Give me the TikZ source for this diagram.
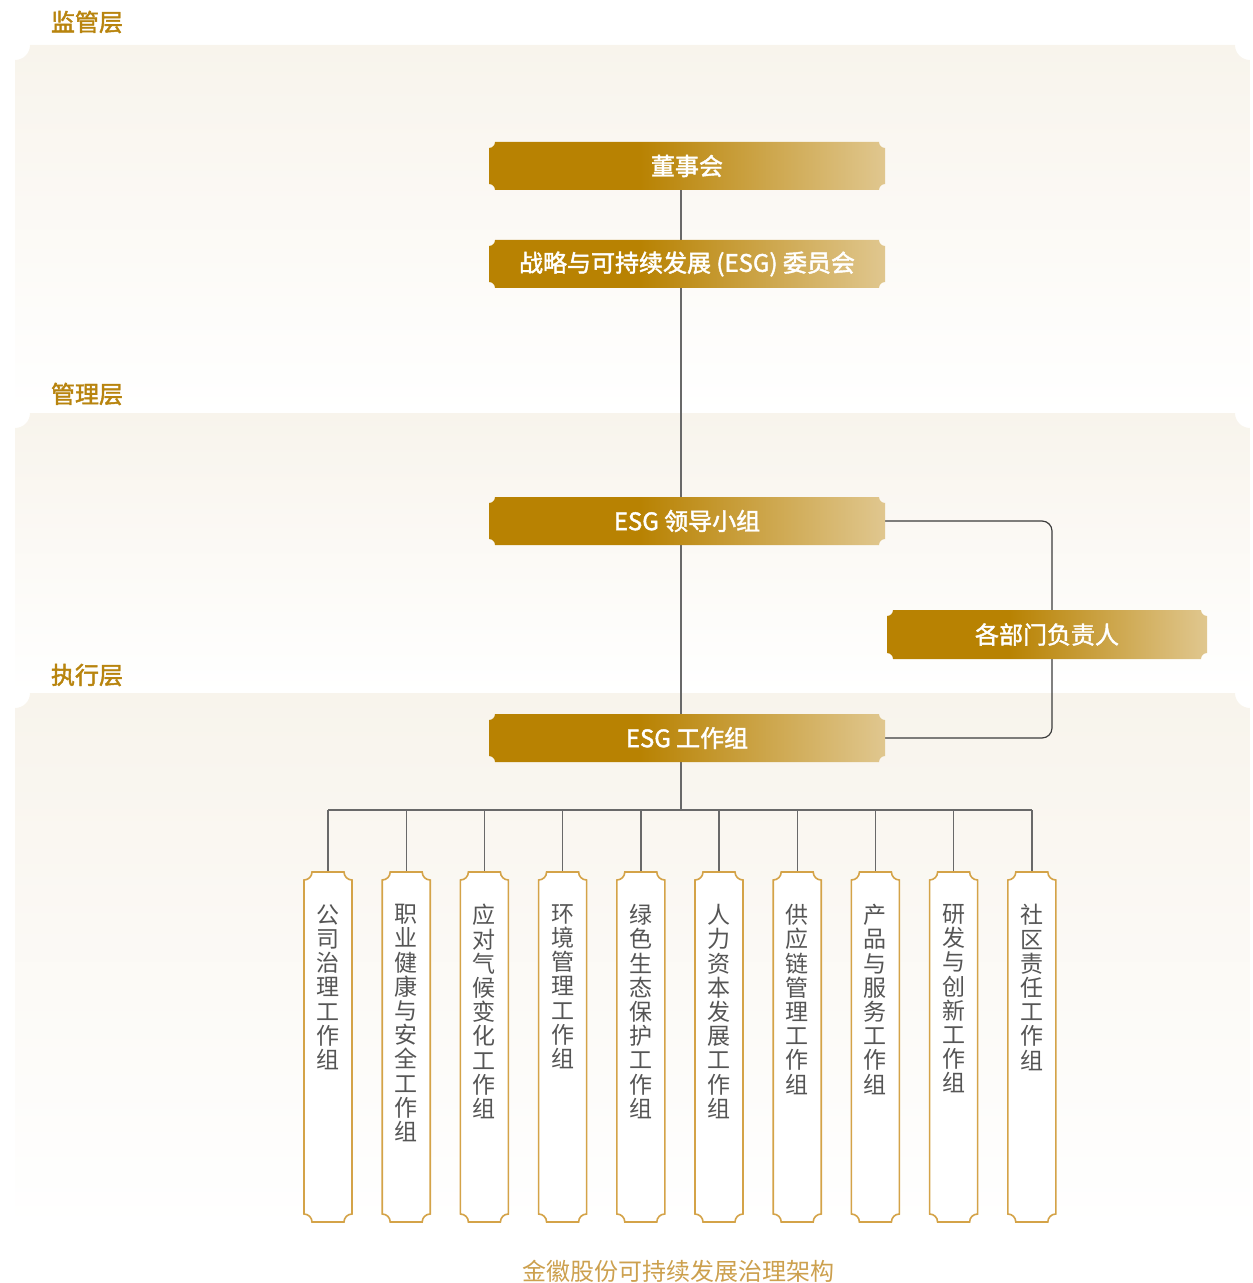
\documentclass[tikz,border=0pt]{standalone}
\usepackage{fontspec}
\setmainfont{Noto Sans CJK SC}
\newfontfamily\mediumcjk[FakeBold=1.8]{Noto Sans CJK SC}
\usetikzlibrary{positioning}

\definecolor{golddark}{RGB}{184,130,2}
\definecolor{goldlight}{RGB}{224,199,143}
\definecolor{tiergold}{RGB}{184,132,14}
\definecolor{captiongold}{RGB}{204,160,78}
\definecolor{bandtop}{RGB}{248,244,236}
\definecolor{wiregray}{RGB}{105,105,105}
\definecolor{bracketgray}{RGB}{60,60,60}
\definecolor{talledge}{RGB}{212,163,72}
\definecolor{talltextgray}{RGB}{85,85,85}

\pgfdeclarehorizontalshading{goldfade}{100bp}{color(0bp)=(golddark); color(25bp)=(golddark); color(44bp)=(golddark); color(75bp)=(goldlight); color(100bp)=(goldlight)}

\pgfdeclarelayer{bands}
\pgfdeclarelayer{wires}
\pgfdeclarelayer{shapes}
\pgfsetlayers{bands,wires,shapes,main}

% box outline with hollow corners
\newcommand{\notched}[3]{\path[#1] ([xshift=#3]#2.north west) -- ([xshift=-#3]#2.north east) arc[start angle=180,end angle=270,radius=#3] -- ([yshift=#3]#2.south east) arc[start angle=90,end angle=180,radius=#3] -- ([xshift=#3]#2.south west) arc[start angle=0,end angle=90,radius=#3] -- ([yshift=-#3]#2.north west) arc[start angle=270,end angle=360,radius=#3] -- cycle;}

\tikzset{
  tier/.style={inner sep=0pt, text=tiergold, font=\fontsize{12}{14}\selectfont\mediumcjk},
  goldbox/.style={minimum width=198pt, minimum height=24pt, inner sep=0pt, outer sep=0pt, text=white, font=\fontsize{12}{14}\selectfont\mediumcjk},
  tallbox/.style={minimum width=24pt, minimum height=175pt, inner sep=0pt, outer sep=0pt},
  talltext/.style={inner sep=0pt, align=center, text=talltextgray, font=\fontsize{11.5}{12.1}\selectfont},
  wire/.style={draw=wiregray, line width=0.7pt},
  bracket/.style={draw=bracketgray, line width=0.6pt, rounded corners=5pt},
  caption/.style={inner sep=0pt, text=captiongold, font=\fontsize{12}{14}\selectfont}
}

\begin{document}
\begin{tikzpicture}[x=0.5pt,y=0.5pt]
\useasboundingbox (0,0) rectangle (1252,-1283);

% tier bands
\begin{pgfonlayer}{bands}
\shade[top color=bandtop,bottom color=white] (15,-60) arc[start angle=270,end angle=360,radius=15] -- (1235,-45) arc[start angle=180,end angle=270,radius=15] -- (1250,-413) -- (15,-413) -- cycle;
\shade[top color=bandtop,bottom color=white] (15,-428) arc[start angle=270,end angle=360,radius=15] -- (1235,-413) arc[start angle=180,end angle=270,radius=15] -- (1250,-693) -- (15,-693) -- cycle;
\shade[top color=bandtop,bottom color=white] (15,-708) arc[start angle=270,end angle=360,radius=15] -- (1235,-693) arc[start angle=180,end angle=270,radius=15] -- (1250,-1230) -- (15,-1230) -- cycle;
\end{pgfonlayer}

\node[tier] (tier1) at (87,-22) {监管层};
\node[tier] (tier2) at (87,-394) {管理层};
\node[tier] (tier3) at (87,-675) {执行层};

% gold boxes
\node[goldbox] (board) at (687,-166) {董事会};
\node[goldbox] (committee) at (687,-264) {战略与可持续发展 (ESG) 委员会};
\node[goldbox] (leadgrp) at (687,-521) {ESG 领导小组};
\node[goldbox, minimum width=160pt, minimum height=24.5pt] (deptheads) at (1047,-634.5) {各部门负责人};
\node[goldbox] (workgrp) at (687,-738) {ESG 工作组};

\begin{pgfonlayer}{shapes}
\notched{shade, shading=goldfade}{board}{3pt}
\notched{shade, shading=goldfade}{committee}{3pt}
\notched{shade, shading=goldfade}{leadgrp}{3pt}
\notched{shade, shading=goldfade}{deptheads}{3pt}
\notched{shade, shading=goldfade}{workgrp}{3pt}
\end{pgfonlayer}

% working groups
\node[tallbox] (wg1) at (328,-1047) {};
\node[tallbox] (wg2) at (406.2,-1047) {};
\node[tallbox] (wg3) at (484.4,-1047) {};
\node[tallbox] (wg4) at (562.6,-1047) {};
\node[tallbox] (wg5) at (640.8,-1047) {};
\node[tallbox] (wg6) at (719,-1047) {};
\node[tallbox] (wg7) at (797.2,-1047) {};
\node[tallbox] (wg8) at (875.4,-1047) {};
\node[tallbox] (wg9) at (953.6,-1047) {};
\node[tallbox] (wg10) at (1031.8,-1047) {};

\begin{pgfonlayer}{shapes}
\notched{draw=talledge, line width=0.8pt, fill=white}{wg1}{4pt}
\notched{draw=talledge, line width=0.8pt, fill=white}{wg2}{4pt}
\notched{draw=talledge, line width=0.8pt, fill=white}{wg3}{4pt}
\notched{draw=talledge, line width=0.8pt, fill=white}{wg4}{4pt}
\notched{draw=talledge, line width=0.8pt, fill=white}{wg5}{4pt}
\notched{draw=talledge, line width=0.8pt, fill=white}{wg6}{4pt}
\notched{draw=talledge, line width=0.8pt, fill=white}{wg7}{4pt}
\notched{draw=talledge, line width=0.8pt, fill=white}{wg8}{4pt}
\notched{draw=talledge, line width=0.8pt, fill=white}{wg9}{4pt}
\notched{draw=talledge, line width=0.8pt, fill=white}{wg10}{4pt}
\end{pgfonlayer}

\node[talltext, below=16pt of wg1.north] (wg1txt) {公\\司\\治\\理\\工\\作\\组};
\node[talltext, below=16pt of wg2.north] (wg2txt) {职\\业\\健\\康\\与\\安\\全\\工\\作\\组};
\node[talltext, below=16pt of wg3.north] (wg3txt) {应\\对\\气\\候\\变\\化\\工\\作\\组};
\node[talltext, below=16pt of wg4.north] (wg4txt) {环\\境\\管\\理\\工\\作\\组};
\node[talltext, below=16pt of wg5.north] (wg5txt) {绿\\色\\生\\态\\保\\护\\工\\作\\组};
\node[talltext, below=16pt of wg6.north] (wg6txt) {人\\力\\资\\本\\发\\展\\工\\作\\组};
\node[talltext, below=16pt of wg7.north] (wg7txt) {供\\应\\链\\管\\理\\工\\作\\组};
\node[talltext, below=16pt of wg8.north] (wg8txt) {产\\品\\与\\服\\务\\工\\作\\组};
\node[talltext, below=16pt of wg9.north] (wg9txt) {研\\发\\与\\创\\新\\工\\作\\组};
\node[talltext, below=16pt of wg10.north] (wg10txt) {社\\区\\责\\任\\工\\作\\组};

% connectors
\coordinate (hub) at (681,-810);
\coordinate (turn) at (1052,-634);
\begin{pgfonlayer}{wires}
\draw[wire] (hub |- board.south) -- (hub |- committee.north);
\draw[wire] (hub |- committee.south) -- (hub |- leadgrp.north);
\draw[wire] (hub |- leadgrp.south) -- (hub |- workgrp.north);
\draw[wire] (hub |- workgrp.south) -- (hub);
\draw[wire] (wg1.north |- hub) -- (wg10.north |- hub);
\draw[wire] (wg1.north |- hub) -- (wg1.north);
\draw[wire] (wg2.north |- hub) -- (wg2.north);
\draw[wire] (wg3.north |- hub) -- (wg3.north);
\draw[wire] (wg4.north |- hub) -- (wg4.north);
\draw[wire] (wg5.north |- hub) -- (wg5.north);
\draw[wire] (wg6.north |- hub) -- (wg6.north);
\draw[wire] (wg7.north |- hub) -- (wg7.north);
\draw[wire] (wg8.north |- hub) -- (wg8.north);
\draw[wire] (wg9.north |- hub) -- (wg9.north);
\draw[wire] (wg10.north |- hub) -- (wg10.north);
\draw[bracket] (leadgrp.east) -| (turn) |- (workgrp.east);
\end{pgfonlayer}

\node[caption] (title) at (678,-1271) {金徽股份可持续发展治理架构};
\end{tikzpicture}
\end{document}
